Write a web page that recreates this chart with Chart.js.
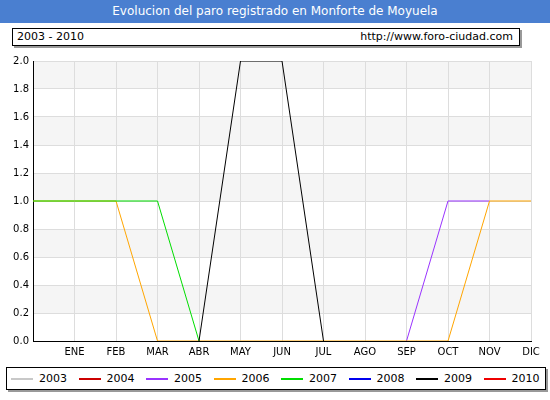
<!DOCTYPE html><html><head><meta charset="utf-8">
<script src="https://cdn.jsdelivr.net/npm/chart.js@4"></script>
<style>
body{margin:0;width:550px;height:400px;background:#fff;font-family:"DejaVu Sans",sans-serif;position:relative;overflow:hidden}
#title{position:absolute;left:0;top:0;width:550px;height:23px;background:#4a7fd0;color:#fff;font-size:12px;text-align:center;line-height:23px}
#hdr{position:absolute;left:12px;top:28px;width:506px;height:16px;border:1px solid #000;box-shadow:2px 2px 0 #999;font-size:11px;line-height:16px;background:#fff}
#hdr span{position:absolute}
#leg{position:absolute;left:6px;top:367px;width:538px;height:21px;border:1px solid #000;box-shadow:2px 2px 0 #999;font-size:11px;background:#fff}
.it{position:absolute;top:4px}
.it i{display:inline-block;width:22px;height:2px;vertical-align:middle;margin-right:6px}
#wrap{position:absolute;left:0;top:51px;width:550px;height:312px}
</style></head><body>
<div id="title">Evolucion del paro registrado en Monforte de Moyuela</div>
<div id="hdr"><span style="left:4px">2003 - 2010</span><span style="right:6px">http://www.foro-ciudad.com</span></div>
<div id="wrap"><canvas id="c"></canvas></div>
<div id="leg"></div>
<script>
const labels=["","ENE","FEB","MAR","ABR","MAY","JUN","JUL","AGO","SEP","OCT","NOV","DIC"];
const years=["2003","2004","2005","2006","2007","2008","2009","2010"];
const colors=["#c8c8c8","#cc0000","#9933ff","#ffa500","#00dd00","#0000ee","#000000","#ee0000"];
const s2005=[null,null,null,null,null,null,null,null,null,0,1,1,null];
const s2006=[1,1,1,0,0,0,0,0,0,0,0,1,1];
const s2007=[1,1,1,1,0,null,null,null,null,null,null,null,null];
const s2009=[null,null,null,null,0,2,2,0,null,null,null,null,null];
const yTicks=[0,0.2,0.4,0.6,0.8,1.0,1.2,1.4,1.6,1.8,2.0];
const leg=document.getElementById('leg');
years.forEach((y,i)=>{const d=document.createElement('span');d.className='it';d.style.left=(4+i*67.5)+'px';d.innerHTML='<i style="background:'+colors[i]+'"></i>'+y;leg.appendChild(d);});
const bands={id:'bands',beforeDraw(ch){const {ctx,chartArea:a,scales:{y}}=ch;ctx.save();ctx.fillStyle='#f5f5f5';for(let i=0;i<10;i++){if(i%2==1){const t=y.getPixelForValue(yTicks[i+1]),b=y.getPixelForValue(yTicks[i]);ctx.fillRect(a.left,t,a.right-a.left,b-t);}}ctx.restore();}};
const mk=(d,c,o)=>({data:d,borderColor:c,borderWidth:1,pointRadius:0,fill:false,tension:0,order:o,spanGaps:false});
new Chart(document.getElementById('c'),{type:'line',plugins:[bands],
data:{labels,datasets:[mk(s2009,colors[6],1),mk(s2007,colors[4],2),mk(s2006,colors[3],3),mk(s2005,colors[2],4)]},
options:{responsive:true,maintainAspectRatio:false,animation:false,
layout:{padding:{top:2,right:19,left:0,bottom:0}},
plugins:{legend:{display:false},tooltip:{enabled:false}},
scales:{x:{offset:false,grid:{color:'#dddddd',drawTicks:false},border:{color:'#000'},ticks:{color:'#000',font:{family:'DejaVu Sans',size:10},padding:5,maxRotation:0,autoSkip:false}},
y:{min:0,max:2,afterFit(s){s.width=33},afterBuildTicks(s){s.ticks=yTicks.map(v=>({value:v}))},grid:{color:'#dddddd',drawTicks:false},border:{color:'#000'},ticks:{color:'#000',font:{family:'DejaVu Sans',size:10},padding:4,callback:v=>v.toFixed(1)}}}}});
</script></body></html>
